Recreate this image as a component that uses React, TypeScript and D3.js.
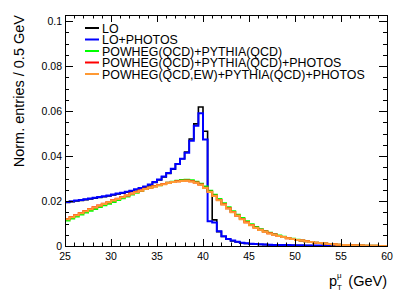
import React, { useEffect, useRef } from 'react';
import * as d3 from 'd3';

// muon pT spectra, 0.5 GeV bins from 25 to 60 GeV (70 bins)
const ptMin = 25;
const ptMax = 60;
const binWidth = 0.5;

const loValues = [
  0.0194, 0.0197, 0.0200, 0.0203, 0.0206, 0.0209, 0.0212, 0.0216, 0.0219, 0.0223,
  0.0227, 0.0231, 0.0235, 0.0239, 0.0244, 0.0250, 0.0256, 0.0263, 0.0271, 0.0282,
  0.0294, 0.0307, 0.0323, 0.0342, 0.0364, 0.0388, 0.0418, 0.0476, 0.0543, 0.0618,
  0.0510, 0.0243, 0.0116, 0.0064, 0.0042, 0.0030, 0.0023, 0.0018, 0.0014, 0.0011,
  0.0009, 0.0008, 0.0007, 0.0006, 0.0005, 0.0004, 0.0004, 0.0003, 0.0003, 0.0003,
  0.0002, 0.0002, 0.0002, 0.0002, 0.0001, 0.0001, 0.0001, 0.0001, 0.0001, 0.0001,
  0, 0, 0, 0, 0, 0, 0, 0, 0, 0,
];

const loPhotosValues = [
  0.0196, 0.0199, 0.0202, 0.0205, 0.0208, 0.0211, 0.0214, 0.0218, 0.0221, 0.0225,
  0.0229, 0.0233, 0.0237, 0.0241, 0.0246, 0.0252, 0.0258, 0.0265, 0.0273, 0.0284,
  0.0296, 0.0309, 0.0325, 0.0344, 0.0365, 0.0388, 0.0415, 0.0468, 0.0535, 0.0590,
  0.0473, 0.0110, 0.0104, 0.0066, 0.0043, 0.0031, 0.0024, 0.0019, 0.0015, 0.0012,
  0.0010, 0.0009, 0.0008, 0.0007, 0.0006, 0.0005, 0.0005, 0.0004, 0.0004, 0.0003,
  0.0003, 0.0003, 0.0002, 0.0002, 0.0002, 0.0002, 0.0001, 0.0001, 0.0001, 0.0001,
  0, 0, 0, 0, 0, 0, 0, 0, 0, 0,
];

const powhegQcdValues = [
  0.0113, 0.0122, 0.0131, 0.0140, 0.0149, 0.0157, 0.0165, 0.0173, 0.0181, 0.0188,
  0.0196, 0.0204, 0.0212, 0.0220, 0.0229, 0.0237, 0.0245, 0.0253, 0.0260, 0.0266,
  0.0270, 0.0276, 0.0281, 0.0286, 0.0290, 0.0293, 0.0294, 0.0292, 0.0286, 0.0277,
  0.0264, 0.0246, 0.0228, 0.0209, 0.0190, 0.0172, 0.0155, 0.0139, 0.0124, 0.0110,
  0.0097, 0.0085, 0.0075, 0.0066, 0.0059, 0.0052, 0.0047, 0.0041, 0.0036, 0.0032,
  0.0028, 0.0024, 0.0021, 0.0018, 0.0015, 0.0013, 0.0011, 0.0009, 0.0008, 0.0006,
  0.0005, 0.0004, 0.0003, 0.0002, 0.0002, 0.0001, 0.0001, 0.0001, 0, 0,
];

const powhegQcdPhotosValues = [
  0.0120, 0.0129, 0.0138, 0.0147, 0.0156, 0.0164, 0.0172, 0.0180, 0.0188, 0.0195,
  0.0203, 0.0210, 0.0218, 0.0225, 0.0233, 0.0240, 0.0247, 0.0254, 0.0260, 0.0266,
  0.0271, 0.0276, 0.0281, 0.0285, 0.0288, 0.0290, 0.0291, 0.0288, 0.0282, 0.0273,
  0.0259, 0.0241, 0.0223, 0.0204, 0.0186, 0.0168, 0.0151, 0.0135, 0.0120, 0.0106,
  0.0093, 0.0081, 0.0072, 0.0064, 0.0057, 0.0051, 0.0045, 0.0040, 0.0035, 0.0031,
  0.0027, 0.0024, 0.0021, 0.0018, 0.0015, 0.0013, 0.0011, 0.0009, 0.0008, 0.0006,
  0.0005, 0.0004, 0.0003, 0.0002, 0.0002, 0.0001, 0.0001, 0.0001, 0, 0,
];

const powhegEwPhotosValues = [
  0.0119, 0.0128, 0.0137, 0.0146, 0.0155, 0.0163, 0.0171, 0.0179, 0.0187, 0.0194,
  0.0202, 0.0209, 0.0217, 0.0224, 0.0232, 0.0239, 0.0246, 0.0253, 0.0259, 0.0265,
  0.0270, 0.0275, 0.0280, 0.0284, 0.0287, 0.0289, 0.0290, 0.0287, 0.0281, 0.0272,
  0.0258, 0.0240, 0.0222, 0.0203, 0.0185, 0.0167, 0.0150, 0.0134, 0.0119, 0.0105,
  0.0092, 0.0080, 0.0071, 0.0063, 0.0056, 0.0050, 0.0045, 0.0040, 0.0035, 0.0031,
  0.0027, 0.0024, 0.0021, 0.0018, 0.0015, 0.0013, 0.0011, 0.0009, 0.0008, 0.0006,
  0.0005, 0.0004, 0.0003, 0.0002, 0.0002, 0.0001, 0.0001, 0.0001, 0, 0,
];

const seriesNames = [
  'LO',
  'LO+PHOTOS',
  'POWHEG(QCD)+PYTHIA(QCD)',
  'POWHEG(QCD)+PYTHIA(QCD)+PHOTOS',
  'POWHEG(QCD,EW)+PYTHIA(QCD)+PHOTOS',
];
const seriesValues = [loValues, loPhotosValues, powhegQcdValues, powhegQcdPhotosValues, powhegEwPhotosValues];
const seriesColors = ['#000000', '#0000ff', '#00ff00', '#ff0000', '#ff9933'];
const seriesWidths = [1.6, 2, 2, 2, 2];

const xTicks = [25, 30, 35, 40, 45, 50, 55, 60];
const yTicks = [0, 0.02, 0.04, 0.06, 0.08, 0.1];
const yMax = 0.1027;

const font = "'Liberation Sans', Arial, Helvetica, sans-serif";

const PtChart: React.FC = () => {
  const ref = useRef<SVGSVGElement | null>(null);

  useEffect(() => {
    if (!ref.current) return;
    const W = 409;
    const H = 294;
    const margin = { top: 15, right: 22, bottom: 48, left: 65 };
    const left = margin.left;
    const right = W - margin.right;
    const top = margin.top;
    const bottom = H - margin.bottom;

    const svg = d3.select(ref.current);
    svg.selectAll('*').remove();
    svg.attr('width', W).attr('height', H);

    const x = d3.scaleLinear().domain([ptMin, ptMax]).range([left, right]);
    const y = d3.scaleLinear().domain([0, yMax]).range([bottom, top]);

    svg.append('rect').attr('width', W).attr('height', H).attr('fill', '#fff');

    svg.append('defs').append('clipPath').attr('id', 'frame-clip')
      .append('rect')
      .attr('x', left).attr('y', top)
      .attr('width', right - left).attr('height', bottom - top);

    const edges = d3.range(ptMin, ptMax, binWidth);

    const line = d3.line<[number, number]>()
      .x(d => x(d[0]))
      .y(d => y(d[1]))
      .curve(d3.curveStepAfter);

    const plot = svg.append('g').attr('clip-path', 'url(#frame-clip)');
    seriesValues.forEach((vals, i) => {
      const pts: [number, number][] = edges.map((e, j) => [e, vals[j]] as [number, number]);
      pts.push([ptMax, vals[vals.length - 1]]);
      plot.append('path')
        .attr('d', line(pts))
        .attr('fill', 'none')
        .attr('stroke', seriesColors[i])
        .attr('stroke-width', seriesWidths[i])
        .attr('stroke-linejoin', 'miter');
    });

    // ticks on all four sides, pointing inward
    const axes = svg.append('g').attr('stroke', '#000').attr('stroke-width', 1);
    const xMinor = d3.range(ptMin, ptMax + 0.01, 1);
    xMinor.forEach(v => {
      const major = xTicks.includes(v);
      const len = major ? 7 : 3.5;
      const px = Math.round(x(v)) + 0.5;
      axes.append('line').attr('x1', px).attr('x2', px).attr('y1', bottom).attr('y2', bottom - len);
      axes.append('line').attr('x1', px).attr('x2', px).attr('y1', top).attr('y2', top + len);
    });
    const yMinor = d3.range(0, yMax, 0.005);
    yMinor.forEach(v => {
      const major = yTicks.some(t => Math.abs(t - v) < 1e-6);
      const len = major ? 8 : 4;
      const py = Math.round(y(v)) + 0.5;
      axes.append('line').attr('x1', left).attr('x2', left + len).attr('y1', py).attr('y2', py);
      axes.append('line').attr('x1', right).attr('x2', right - len).attr('y1', py).attr('y2', py);
    });

    svg.append('rect')
      .attr('x', left + 0.5).attr('y', top + 0.5)
      .attr('width', right - left).attr('height', bottom - top)
      .attr('fill', 'none').attr('stroke', '#000').attr('stroke-width', 1);

    // tick labels
    svg.append('g').selectAll('text').data(xTicks).enter().append('text')
      .attr('x', d => x(d))
      .attr('y', bottom + 14)
      .attr('text-anchor', 'middle')
      .attr('font-family', font)
      .attr('font-size', 10.5)
      .text(d => String(d));

    svg.append('g').selectAll('text').data(yTicks).enter().append('text')
      .attr('x', left - 3)
      .attr('y', d => y(d) + 4)
      .attr('text-anchor', 'end')
      .attr('font-family', font)
      .attr('font-size', 10.5)
      .text(d => d3.format('~g')(d));

    // axis titles
    svg.append('text')
      .attr('transform', `translate(24,${top}) rotate(-90)`)
      .attr('text-anchor', 'end')
      .attr('font-family', font)
      .attr('font-size', 14.5)
      .text('Norm. entries / 0.5 GeV');

    const xt = svg.append('g').attr('font-family', font);
    xt.append('text')
      .attr('x', right).attr('y', bottom + 40)
      .attr('text-anchor', 'end').attr('font-size', 14.5)
      .text('(GeV)');
    xt.append('text')
      .attr('x', right - 58).attr('y', bottom + 40)
      .attr('font-size', 14.5)
      .text('p');
    xt.append('text')
      .attr('x', right - 50).attr('y', bottom + 32)
      .attr('font-size', 8)
      .text('\u03bc');
    xt.append('text')
      .attr('x', right - 50).attr('y', bottom + 44)
      .attr('font-size', 8)
      .text('T');

    // legend
    const legend = svg.append('g').attr('font-family', font);
    seriesNames.forEach((name, i) => {
      const ly = 28 + i * 11.5;
      legend.append('line')
        .attr('x1', left + 20).attr('x2', left + 34)
        .attr('y1', ly).attr('y2', ly)
        .attr('stroke', seriesColors[i]).attr('stroke-width', 2);
      legend.append('text')
        .attr('x', left + 37).attr('y', ly + 4.5)
        .attr('font-size', 12.4)
        .text(name);
    });
  }, []);

  return <svg ref={ref} style={{ position: 'absolute', left: 0, top: 0 }}></svg>;
};

export default function App() {
  return <PtChart />;
}
